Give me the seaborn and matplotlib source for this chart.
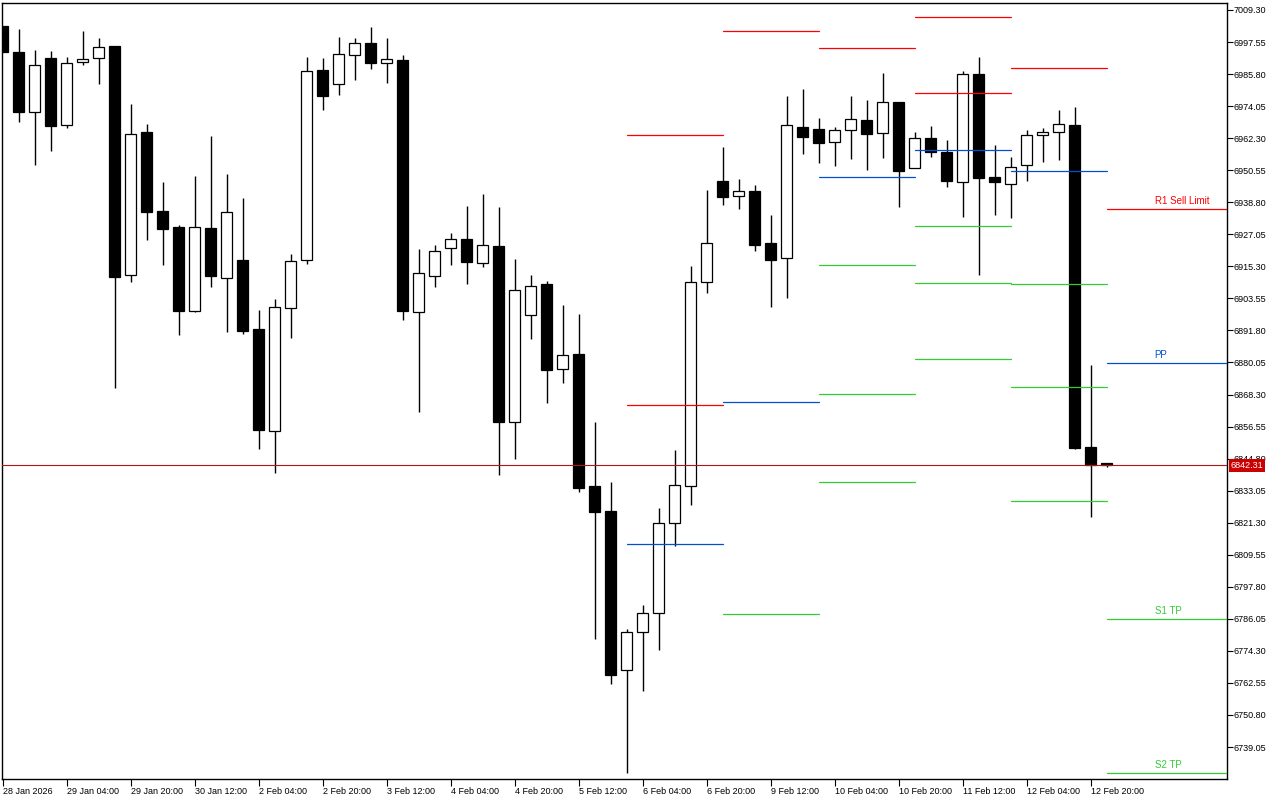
import matplotlib.pyplot as plt
import pandas as pd
import seaborn as sns
from matplotlib.transforms import blended_transform_factory

# === 4h candles, 28 Jan 2026 12:00 -> 13 Feb 00:00 ===
opens = [7003.43, 6993.90, 6971.90, 6991.70, 6967.13, 6990.23, 6991.70, 6996.10, 6912.13, 6964.57,
         6935.60, 6929.73, 6898.93, 6929.36, 6911.03, 6917.63, 6892.33, 6854.93, 6900.03, 6917.63,
         6987.30, 6982.17, 6992.80, 6997.20, 6989.87, 6990.97, 6898.56, 6911.76, 6922.03, 6925.33,
         6916.53, 6922.76, 6858.23, 6897.46, 6908.83, 6877.66, 6883.16, 6834.76, 6825.59, 6767.29,
         6781.23, 6788.19, 6821.19, 6834.76, 6909.56, 6946.60, 6941.10, 6942.93, 6923.86, 6918.36,
         6966.40, 6965.67, 6960.90, 6965.30, 6968.97, 6964.20, 6975.57, 6951.37, 6962.37, 6957.23,
         6946.23, 6985.83, 6948.07, 6945.50, 6952.47, 6963.47, 6964.57, 6967.13, 6849.06, 6843.19]
highs = [7003.43, 7002.33, 6994.63, 6994.27, 6992.07, 7001.60, 6999.03, 6996.10, 6974.83, 6967.50,
         6946.23, 6930.46, 6948.43, 6963.10, 6949.17, 6940.36, 6899.30, 6903.33, 6919.83, 6992.07,
         6991.70, 6999.40, 6999.03, 7003.07, 6999.03, 6992.80, 6921.66, 6923.13, 6927.53, 6937.43,
         6941.83, 6937.06, 6918.00, 6912.13, 6909.93, 6901.13, 6897.83, 6858.23, 6836.23, 6782.33,
         6791.13, 6826.69, 6847.96, 6915.43, 6943.30, 6959.07, 6947.33, 6945.13, 6934.13, 6977.77,
         6980.33, 6969.70, 6966.40, 6977.77, 6976.30, 6986.20, 6975.57, 6964.57, 6966.77, 6961.63,
         6986.93, 6992.07, 6959.80, 6955.40, 6965.30, 6966.03, 6972.63, 6973.73, 6879.13, 6843.19]
lows = [6993.90, 6968.23, 6952.47, 6957.60, 6966.03, 6989.13, 6982.17, 6870.70, 6909.56, 6924.96,
        6915.80, 6890.13, 6898.56, 6907.73, 6891.23, 6890.50, 6848.33, 6839.53, 6889.03, 6916.16,
        6972.63, 6978.13, 6983.63, 6987.67, 6982.53, 6895.63, 6861.90, 6907.73, 6915.80, 6908.83,
        6915.06, 6838.79, 6844.66, 6888.66, 6865.20, 6872.53, 6832.56, 6778.66, 6762.16, 6729.52,
        6759.59, 6774.63, 6812.76, 6827.79, 6905.53, 6937.80, 6936.33, 6920.93, 6900.40, 6903.70,
        6956.50, 6953.20, 6952.10, 6954.67, 6950.63, 6955.03, 6937.06, 6951.37, 6955.40, 6944.40,
        6933.40, 6912.13, 6934.13, 6933.03, 6946.60, 6953.57, 6954.30, 6848.33, 6823.39, 6841.73]
closes = [6993.90, 6971.90, 6989.13, 6966.77, 6989.87, 6991.33, 6995.73, 6911.40, 6963.83, 6935.23,
          6929.00, 6898.93, 6929.73, 6911.76, 6935.23, 6891.60, 6855.30, 6900.40, 6917.26, 6986.93,
          6977.77, 6993.17, 6997.20, 6989.87, 6991.33, 6898.93, 6912.86, 6920.93, 6925.33, 6916.90,
          6923.13, 6858.23, 6906.63, 6908.10, 6877.30, 6882.80, 6834.03, 6825.23, 6765.46, 6781.23,
          6788.19, 6821.19, 6835.13, 6909.56, 6923.86, 6940.73, 6942.93, 6923.13, 6917.63, 6967.13,
          6962.73, 6960.53, 6965.30, 6969.33, 6963.83, 6975.57, 6950.27, 6962.37, 6957.23, 6946.60,
          6985.83, 6947.70, 6946.23, 6951.73, 6963.47, 6964.57, 6967.50, 6848.69, 6842.46, 6842.31]

time_labels = ["28 Jan 2026", "29 Jan 04:00", "29 Jan 20:00", "30 Jan 12:00", "2 Feb 04:00",
               "2 Feb 20:00", "3 Feb 12:00", "4 Feb 04:00", "4 Feb 20:00", "5 Feb 12:00",
               "6 Feb 04:00", "6 Feb 20:00", "9 Feb 12:00", "10 Feb 04:00", "10 Feb 20:00",
               "11 Feb 12:00", "12 Feb 04:00", "12 Feb 20:00"]
label_every = 4

price_ticks = [6739.05, 6750.80, 6762.55, 6774.30, 6786.05, 6797.80, 6809.55, 6821.30,
               6833.05, 6844.80, 6856.55, 6868.30, 6880.05, 6891.80, 6903.55, 6915.30,
               6927.05, 6938.80, 6950.55, 6962.30, 6974.05, 6985.80, 6997.55, 7009.30]

# === Daily pivot levels (6 Feb .. 13 Feb), None = off chart ===
pivot_days = ["6 Feb", "9 Feb", "10 Feb", "11 Feb", "12 Feb", "13 Feb"]
day_first_bar = [39, 45, 51, 57, 63, 69]
r2_levels = [6963.47, None, None, 7006.73, None, None]
r1_levels = [6864.46, 7001.60, 6995.40, 6978.87, 6988.03, 6936.33]
pp_levels = [6813.49, 6865.56, 6948.07, 6957.97, 6950.27, 6879.86]
s1_levels = [None, 6787.83, 6915.80, 6930.10, 6908.83, 6785.99]
s2_levels = [None, None, 6868.50, 6909.20, 6871.06, 6729.52]
s3_levels = [None, None, 6836.23, 6881.33, 6829.26, None]
last_day_labels = {"R1": "R1 Sell Limit", "PP": "PP", "S1": "S1 TP", "S2": "S2 TP"}

RED = "#ff0000"
BLUE = "#0050d0"
GREEN = "#32cd32"
kind_colors = {"R": RED, "P": BLUE, "S": GREEN}

# === Plot style ===
plt.switch_backend("Agg")
sns.set_style("white")
plt.rcParams["font.family"] = ["Liberation Sans", "DejaVu Sans"]

X_MIN, X_MAX = -0.0125, 76.51
Y_MIN, Y_MAX = 6727.33, 7012.05


def candle_frame() -> pd.DataFrame:
    df = pd.DataFrame({"open": opens, "high": highs, "low": lows, "close": closes})
    df["bar"] = range(len(df))
    df["bull"] = df["close"] >= df["open"]
    df["bottom"] = df[["open", "close"]].min(axis=1)
    df["height"] = (df["close"] - df["open"]).abs().clip(lower=0.3)
    return df


def pivot_frame() -> pd.DataFrame:
    rows = []
    levels = {"R2": r2_levels, "R1": r1_levels, "PP": pp_levels,
              "S1": s1_levels, "S2": s2_levels, "S3": s3_levels}
    for d, day in enumerate(pivot_days):
        start = day_first_bar[d]
        end = day_first_bar[d + 1] if d + 1 < len(day_first_bar) else X_MAX + 1
        for name, vals in levels.items():
            if vals[d] is None:
                continue
            seg = f"{day}-{name}"
            for x in (start, end):
                rows.append({"bar": x, "price": vals[d], "level": name,
                             "kind": name[0], "seg": seg, "day": day})
    return pd.DataFrame(rows)


def main() -> None:
    df = candle_frame()
    piv = pivot_frame()

    fig = plt.figure(figsize=(12.8, 8), dpi=100)
    ax = fig.add_axes([0.0018, 0.02625, 0.95656, 0.970625])

    # wicks then bodies (white body hides the wick)
    ax.vlines(df["bar"], df["low"], df["high"], color="black", lw=1.0, zorder=2)
    ax.bar(df["bar"], df["height"], bottom=df["bottom"], width=0.63,
           color=["white" if b else "black" for b in df["bull"]],
           edgecolor="black", linewidth=0.9, zorder=3)

    # daily pivot segments
    sns.lineplot(data=piv, x="bar", y="price", hue="kind", units="seg",
                 estimator=None, palette=kind_colors, legend=False,
                 linewidth=0.9, ax=ax, zorder=4)

    # labels on the current day's levels
    last = piv[piv["day"] == pivot_days[-1]].drop_duplicates("level")
    for _, row in last.iterrows():
        if row["level"] in last_day_labels:
            ax.annotate(last_day_labels[row["level"]], xy=(72, row["price"]),
                        xytext=(0, 2), textcoords="offset points",
                        ha="left", va="bottom", fontsize=7,
                        color=kind_colors[row["kind"]], zorder=6)

    # bid line and price tag
    ax.axhline(closes[-1], color="#b41414", lw=0.8, zorder=5)
    trans = blended_transform_factory(ax.transAxes, ax.transData)
    ax.annotate(f"{closes[-1]:.2f}", xy=(1, closes[-1]), xycoords=trans,
                xytext=(3, 0), textcoords="offset points", ha="left", va="center",
                fontsize=6.5, color="white", annotation_clip=False, zorder=10,
                bbox=dict(boxstyle="square,pad=0.18", fc="#cc0000", ec="none"))

    ax.set_xlim(X_MIN, X_MAX)
    ax.set_ylim(Y_MIN, Y_MAX)

    ax.set_xticks(range(0, len(df), label_every))
    ax.set_xticklabels(time_labels, ha="left")
    ax.set_yticks(price_ticks)
    ax.set_yticklabels([f"{p:.2f}" for p in price_ticks])
    ax.yaxis.tick_right()
    ax.tick_params(axis="y", direction="out", length=4, width=0.8, pad=1,
                   labelsize=6.5, colors="black", right=True, left=False)
    ax.tick_params(axis="x", direction="out", length=5, width=0.8, pad=1,
                   labelsize=6.5, colors="black", bottom=True)
    ax.set_xlabel("")
    ax.set_ylabel("")
    for sp in ax.spines.values():
        sp.set_visible(True)
        sp.set_color("black")
        sp.set_linewidth(1.0)

    fig.savefig("out.png", dpi=100)
    plt.close(fig)


if __name__ == "__main__":
    main()
